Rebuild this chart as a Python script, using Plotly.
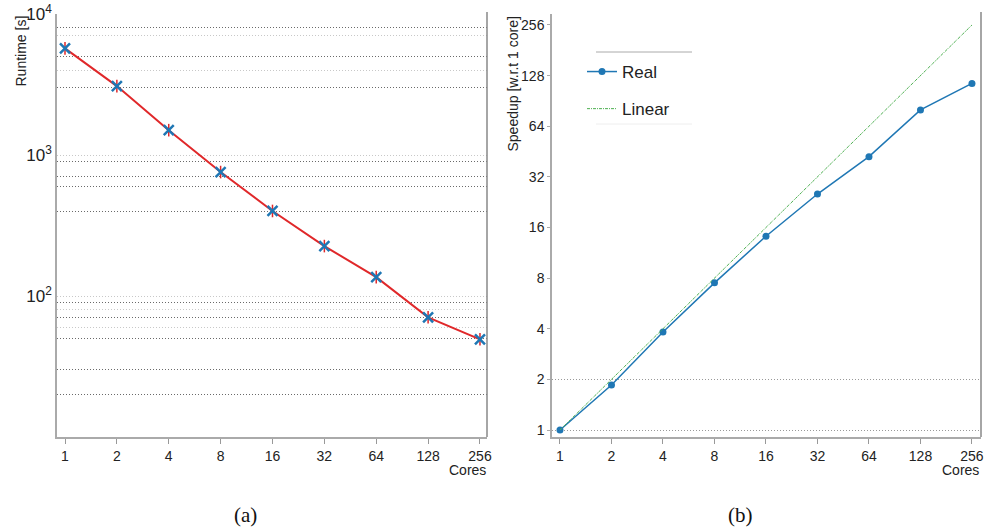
import plotly.graph_objects as go

cores = [1, 2, 4, 8, 16, 32, 64, 128, 256]
runtime = [5700, 3080, 1500, 757, 401, 226, 136, 70.6, 49.3]
speedup_real = [1, 1.85, 3.83, 7.5, 14.2, 25.3, 42.2, 80, 115]
speedup_linear = [1, 256]
linear_cores = [1, 256]
core_labels = [str(c) for c in cores]
speed_ticks = [1, 2, 4, 8, 16, 32, 64, 128, 256]
rt_major = [100, 1000, 10000]
rt_major_text = ["10<sup>2</sup>", "10<sup>3</sup>", "10<sup>4</sup>"]
rt_grid_dark = [20, 30, 50, 70, 90, 400, 600, 700, 900, 3000, 5000, 8000]
rt_grid_light = [60, 80, 4000, 7000]

W, H = 988, 530
FONT = "Liberation Sans"
BLUE = "#1f77b4"
RED = "#e0282a"
GREEN = "#4caf50"
DOT = "1px,2px"

def px(x):
    return x / W

def py(y):
    return 1 - y / H

fig = go.Figure()

# (a) runtime
fig.add_trace(go.Scatter(x=cores, y=runtime, mode="markers", xaxis="x", yaxis="y3",
                         marker=dict(symbol="x-thin-open", size=10, color=BLUE,
                                     line=dict(width=2.5, color=BLUE)),
                         showlegend=False, hoverinfo="skip"))
fig.add_trace(go.Scatter(x=cores, y=runtime, mode="lines+markers", xaxis="x", yaxis="y",
                         line=dict(color=RED, width=2),
                         marker=dict(symbol="line-ns-open", size=9, color=RED,
                                     line=dict(width=1.5, color=RED)),
                         showlegend=False))

# (b) speedup
fig.add_trace(go.Scatter(x=cores, y=speedup_real, mode="lines+markers", xaxis="x2", yaxis="y2",
                         name="Real", legendgroup="a",
                         line=dict(color=BLUE, width=1.5),
                         marker=dict(symbol="circle", size=7, color=BLUE)))
fig.add_trace(go.Scatter(x=linear_cores, y=speedup_linear, mode="lines", xaxis="x2", yaxis="y2",
                         name="Linear", legendgroup="b",
                         line=dict(color=GREEN, width=1, dash="3px,1px,1px,1px")))

tickfont = dict(family=FONT, size=14, color="#222")
ydom = [py(437), py(14)]

fig.update_layout(
    template="none",
    width=W, height=H,
    margin=dict(l=0, r=0, t=0, b=0, autoexpand=False),
    paper_bgcolor="white", plot_bgcolor="white",
    font=dict(family=FONT, color="#222"),
    xaxis=dict(type="log", domain=[px(57), px(487)], range=[-0.0464, 2.449],
               tickmode="array", tickvals=cores, ticktext=core_labels,
               tickfont=tickfont, ticks="outside", ticklen=5, tickcolor="#999",
               showline=True, linecolor="#aaa", linewidth=1.5, showgrid=False,
               zeroline=False, anchor="y", automargin=False),
    yaxis=dict(type="log", domain=ydom, range=[1, 4],
               tickmode="array", tickvals=rt_major, ticktext=rt_major_text,
               tickfont=dict(family=FONT, size=17, color="#222"),
               ticks="", showline=True, linecolor="#aaa", linewidth=1.5,
               showgrid=True, gridcolor="#c8c8c8", griddash=DOT, gridwidth=1,
               minor=dict(tickmode="array", tickvals=rt_grid_light, showgrid=True,
                          gridcolor="#c8c8c8", griddash=DOT, gridwidth=1, ticks=""),
               zeroline=False, anchor="x", automargin=False),
    yaxis3=dict(type="log", domain=ydom, range=[1, 4], overlaying="y", anchor="x",
                tickmode="array", tickvals=rt_grid_dark, showticklabels=False,
                ticks="", showline=False, showgrid=True, gridcolor="#6a6a6a",
                griddash=DOT, gridwidth=1, zeroline=False, automargin=False),
    xaxis2=dict(type="log", domain=[px(552), px(981)], range=[-0.0467, 2.461],
                tickmode="array", tickvals=cores, ticktext=core_labels,
                tickfont=tickfont, ticks="outside", ticklen=5, tickcolor="#999",
                showline=True, linecolor="#aaa", linewidth=1.5, showgrid=False,
                zeroline=False, anchor="y2", automargin=False),
    yaxis2=dict(type="log", domain=ydom, range=[-0.0416, 2.4736],
                tickmode="array", tickvals=speed_ticks, ticktext=[str(v) for v in speed_ticks],
                tickfont=tickfont, ticks="outside", ticklen=3, tickcolor="#aaa",
                showline=True, linecolor="#aaa", linewidth=1.5, showgrid=False,
                minor=dict(tickmode="array", tickvals=[1, 2], showgrid=True,
                           gridcolor="#999", griddash=DOT, gridwidth=1, ticks=""),
                zeroline=False, anchor="x2", automargin=False),
    showlegend=True,
    legend=dict(x=px(582), y=py(54), xanchor="left", yanchor="top",
                font=dict(family=FONT, size=17, color="#222"),
                bgcolor="rgba(0,0,0,0)", borderwidth=0,
                traceorder="grouped", tracegroupgap=12, itemwidth=30),
    shapes=[
        dict(type="line", xref="paper", yref="paper", x0=px(487), x1=px(487),
             y0=py(437), y1=py(12), line=dict(color="#888", width=1.5)),
        dict(type="line", xref="paper", yref="paper", x0=px(981), x1=px(981),
             y0=py(437), y1=py(12), line=dict(color="#888", width=1.5)),
        dict(type="line", xref="paper", yref="paper", x0=px(596), x1=px(692),
             y0=py(52), y1=py(52), line=dict(color="#aaa", width=1)),
        dict(type="line", xref="paper", yref="paper", x0=px(596), x1=px(692),
             y0=py(124), y1=py(124), line=dict(color="#eee", width=1)),
    ],
    annotations=[
        dict(text="Runtime [s]", textangle=-90, xref="paper", yref="paper",
             x=px(10), y=py(14), xanchor="left", yanchor="top", showarrow=False,
             font=dict(family=FONT, size=14, color="#222")),
        dict(text="Speedup [w.r.t 1 core]", textangle=-90, xref="paper", yref="paper",
             x=px(502), y=py(14), xanchor="left", yanchor="top", showarrow=False,
             font=dict(family=FONT, size=14, color="#222")),
        dict(text="Cores", xref="paper", yref="paper", x=px(488), y=py(470),
             xanchor="right", yanchor="middle", showarrow=False,
             font=dict(family=FONT, size=14, color="#222")),
        dict(text="Cores", xref="paper", yref="paper", x=px(981), y=py(470),
             xanchor="right", yanchor="middle", showarrow=False,
             font=dict(family=FONT, size=14, color="#222")),
        dict(text="(a)", xref="paper", yref="paper", x=px(245), y=py(515),
             xanchor="center", yanchor="middle", showarrow=False,
             font=dict(family="Liberation Serif", size=21, color="#111")),
        dict(text="(b)", xref="paper", yref="paper", x=px(740), y=py(515),
             xanchor="center", yanchor="middle", showarrow=False,
             font=dict(family="Liberation Serif", size=21, color="#111")),
    ],
)

fig.write_html("out.html", config={"displayModeBar": False},
               post_script="document.body.style.margin='0';")
